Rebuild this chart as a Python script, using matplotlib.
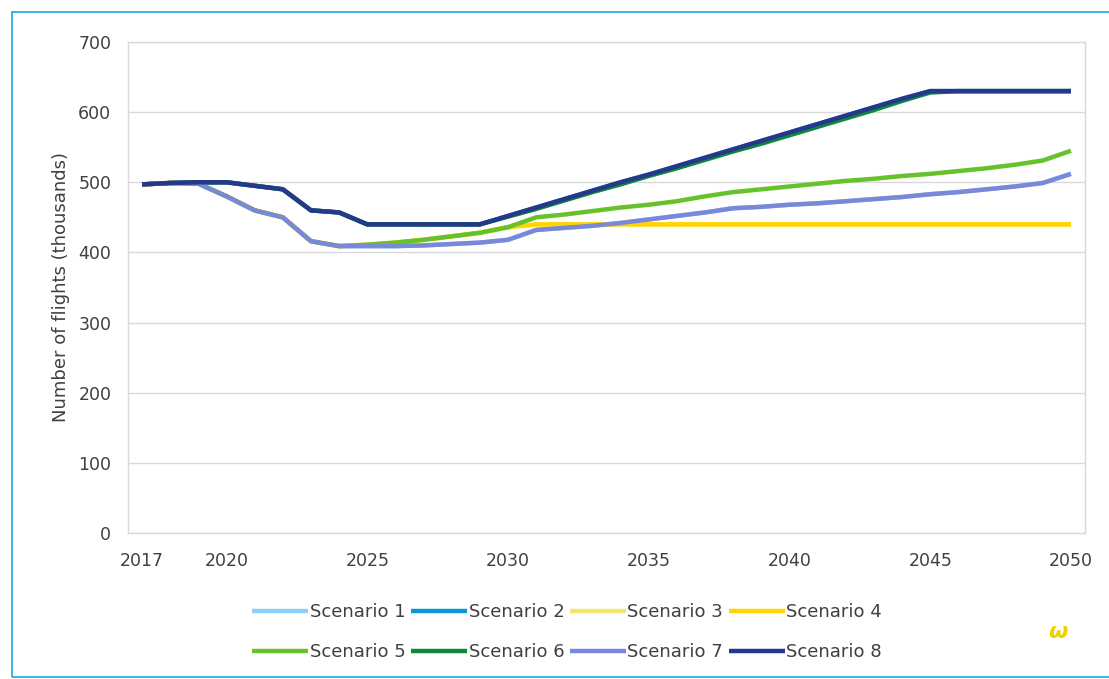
import matplotlib
matplotlib.use("Agg")
import matplotlib.pyplot as plt
from matplotlib.patches import Rectangle

years = list(range(2017, 2051))

s8 = [497, 499, 500, 500, 495, 490, 460, 457, 440, 440, 440, 440, 440,
      452, 464, 476, 488, 500, 511, 523, 535, 547, 559, 571, 583, 595,
      607, 619, 630, 630, 630, 630, 630, 630]
s6 = [497, 499, 500, 500, 495, 490, 460, 457, 440, 440, 440, 440, 440,
      451, 462, 474, 486, 497, 509, 520, 532, 544, 555, 567, 579, 591,
      603, 616, 628, 630, 630, 630, 630, 630]
s7 = [497, 499, 498, 480, 460, 450, 416, 409, 409, 409, 410, 412, 414,
      418, 432, 435, 438, 442, 447, 452, 457, 463, 465, 468, 470, 473,
      476, 479, 483, 486, 490, 494, 499, 512]
s5 = [497, 499, 498, 480, 460, 450, 416, 409, 411, 414, 418, 423, 428,
      436, 450, 454, 459, 464, 468, 473, 480, 486, 490, 494, 498, 502,
      505, 509, 512, 516, 520, 525, 531, 545]
s4 = [497, 499, 498, 480, 460, 450, 416, 409, 411, 414, 418, 423, 428,
      436, 440, 440, 440, 440, 440, 440, 440, 440, 440, 440, 440, 440,
      440, 440, 440, 440, 440, 440, 440, 440]
s3 = list(s4)
s2 = list(s8)
s1 = list(s7)

series = [s1, s2, s3, s4, s5, s6, s7, s8]
names = [f"Scenario {i}" for i in range(1, 9)]
colors = ["#8ecff5", "#0b96d6", "#f4e66a", "#ffd500",
          "#66c22a", "#0a8a3a", "#7b88d8", "#27388a"]

xticks = [2017, 2020, 2025, 2030, 2035, 2040, 2045, 2050]
yticks = [0, 100, 200, 300, 400, 500, 600, 700]

plt.rcParams['font.family'] = ['DejaVu Sans']
fig = plt.figure(figsize=(11.09, 6.79), dpi=100)
ax = fig.add_axes([128/1109, 1-533/679, (1085-128)/1109, (533-42)/679])

for vals, name, c in zip(series, names, colors):
    ax.plot(years, vals, color=c, lw=3.2, label=name, solid_capstyle='butt')

ax.set_xlim(2016.5, 2050.5)
ax.set_ylim(0, 700)
ax.set_xticks(xticks)
ax.set_xticklabels([str(x) for x in xticks])
ax.set_yticks(yticks)
ax.tick_params(axis='both', length=0, labelsize=12.5, colors='#404040')
ax.tick_params(axis='x', pad=14)
ax.tick_params(axis='y', pad=12)
ax.grid(axis='y', color='#d9d9d9', lw=1)
ax.set_axisbelow(True)
for sp in ax.spines.values():
    sp.set_color('#d9d9d9')
    sp.set_linewidth(1)
ax.set_ylabel("Number of flights (thousands)", fontsize=13, color='#404040', labelpad=6)

handles, labels = ax.get_legend_handles_labels()
order = [0, 4, 1, 5, 2, 6, 3, 7]
leg = fig.legend([handles[i] for i in order], [labels[i] for i in order],
                 loc='center', bbox_to_anchor=(567/1109, 1-632/679),
                 ncol=4, frameon=False, fontsize=13, handlelength=3.1,
                 handletextpad=0.1, columnspacing=0.3, labelspacing=1.2,
                 labelcolor='#404040')

fig.patches.append(Rectangle((12/1109, 2/679), 1 - 12/1109 + 0.01, 1 - 14/679,
                             transform=fig.transFigure, fill=False,
                             edgecolor='#1ea3e3', lw=1.2))
fig.text(1058/1109, 1-632/679, "ω", color='#f0d000', fontsize=16,
         fontstyle='italic', fontweight='bold', ha='center', va='center')

fig.savefig("out.png", dpi=100, facecolor='white')
